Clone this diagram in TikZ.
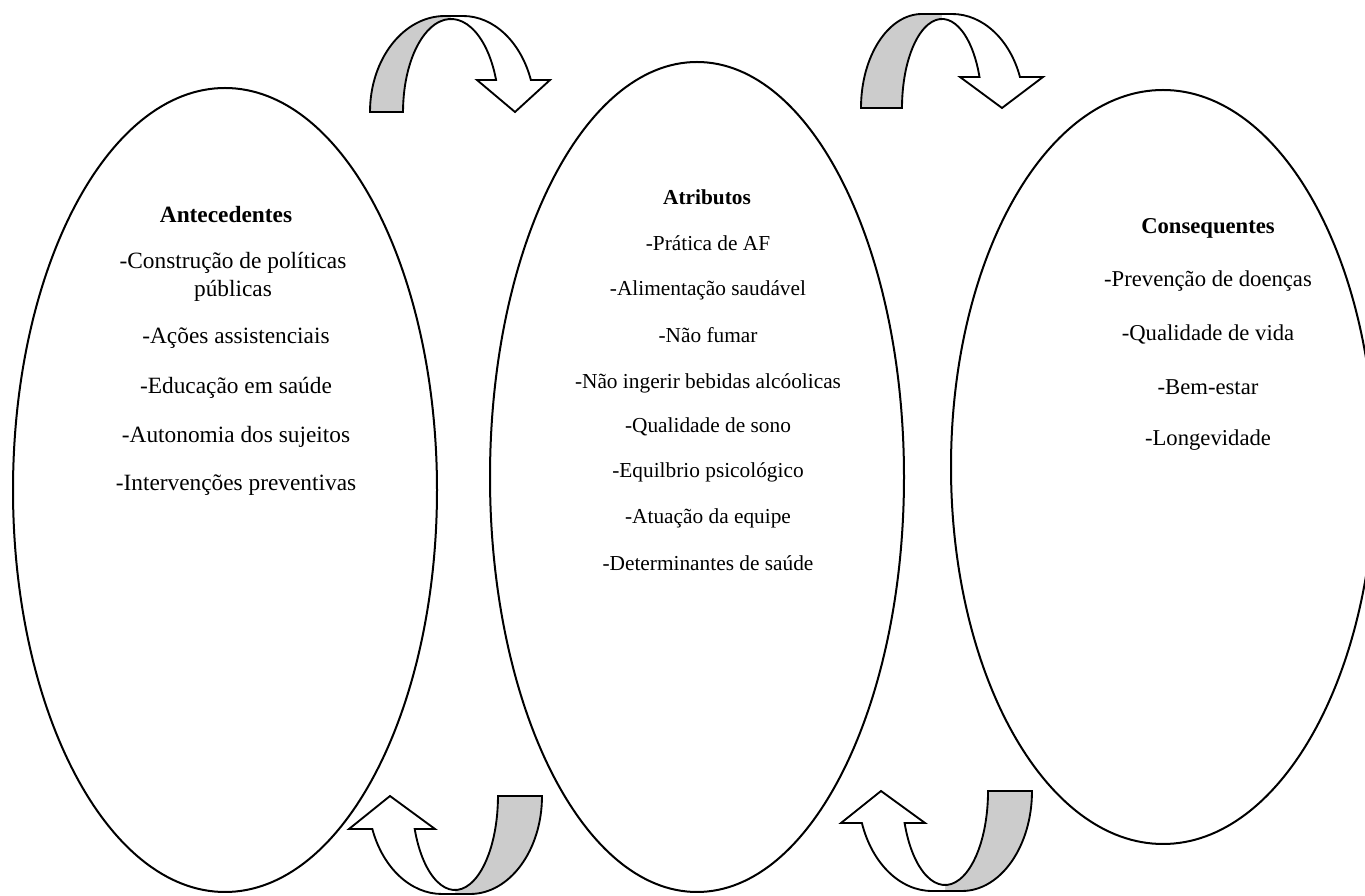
\documentclass[tikz,border=0pt]{standalone}
\usepackage{fontspec}
\setmainfont{Liberation Serif}
\usetikzlibrary{shapes.geometric}
\definecolor{band}{RGB}{204,204,204}
\begin{document}
\begin{tikzpicture}[x=0.75pt,y=0.75pt,
  oval/.style={draw=black,line width=1.5pt,ellipse,inner sep=0pt},
  bigtxt/.style={font=\fontsize{17.5}{20.5}\selectfont,align=center,inner sep=0pt},
  midtxt/.style={font=\fontsize{16}{19}\selectfont,align=center,inner sep=0pt},
  rtxt/.style={font=\fontsize{17}{20}\selectfont,align=center,inner sep=0pt},
  outline/.style={draw=black,line width=1.4pt,line join=miter}]
\useasboundingbox (0,0) rectangle (1365,896);

% ellipses
\node[oval,minimum width=424pt*0.75,minimum height=804pt*0.75] (ante) at (225,406) {};
\node[oval,minimum width=414pt*0.75,minimum height=830pt*0.75] (atri) at (697,419) {};
\node[oval,minimum width=424pt*0.75,minimum height=754pt*0.75] (cons) at (1163,429) {};

% left texts
\node[bigtxt] (a0) at (226,681) {\textbf{Antecedentes}};
\node[bigtxt] (a1) at (233,619) {-Construção de políticas\\públicas};
\node[bigtxt] (a2) at (236,558) {-Ações assistenciais};
\node[bigtxt] (a3) at (236,508) {-Educação em saúde};
\node[bigtxt] (a4) at (236,459) {-Autonomia dos sujeitos};
\node[bigtxt] (a5) at (236,411) {-Intervenções preventivas};

% middle texts
\node[midtxt] (b0) at (707,699) {\textbf{Atributos}};
\node[midtxt] (b1) at (708,653) {-Prática de AF};
\node[midtxt] (b2) at (708,606) {-Alimentação saudável};
\node[midtxt] (b3) at (708,561) {-Não fumar};
\node[midtxt] (b4) at (708,513) {-Não ingerir bebidas alcóolicas};
\node[midtxt] (b5) at (708,469) {-Qualidade de sono};
\node[midtxt] (b6) at (708,424) {-Equilbrio psicológico};
\node[midtxt] (b7) at (708,378) {-Atuação da equipe};
\node[midtxt] (b8) at (708,333) {-Determinantes de saúde};

% right texts
\node[rtxt] (c0) at (1208,668) {\textbf{Consequentes}};
\node[rtxt] (c1) at (1208,615) {-Prevenção de doenças};
\node[rtxt] (c2) at (1208,562) {-Qualidade de vida};
\node[rtxt] (c3) at (1208,509) {-Bem-estar};
\node[rtxt] (c4) at (1208,456) {-Longevidade};

% top-left curved arrow
\begin{scope}[shift={(370,784)}]
  \fill[band] (0,0) arc[start angle=180,end angle=90,x radius=75,y radius=96]
     -- (81,96) -- (81,93) arc[start angle=90,end angle=180,x radius=48,y radius=93] -- cycle;
  \fill[white] (81,93) -- (81,96) -- (93,96)
     arc[start angle=90,end angle=19.47,x radius=72,y radius=96]
     -- (180,32) -- (145,0) -- (107,32) -- (126.1,32)
     arc[start angle=20.13,end angle=90,x radius=48,y radius=93] -- cycle;
  \draw[outline] (0,0) arc[start angle=180,end angle=90,x radius=75,y radius=96]
     -- (93,96) arc[start angle=90,end angle=19.47,x radius=72,y radius=96]
     -- (180,32) -- (145,0) -- (107,32) -- (126.1,32)
     arc[start angle=20.13,end angle=180,x radius=48,y radius=93] -- cycle;
\end{scope}

% top-right curved arrow
\begin{scope}[shift={(861,788)}]
  \fill[band] (0,0) arc[start angle=180,end angle=90,x radius=61,y radius=94]
     -- (81,94) -- (81,89) arc[start angle=90,end angle=180,x radius=40,y radius=89] -- cycle;
  \fill[white] (81,89) -- (81,94) -- (91,94)
     arc[start angle=90,end angle=19.26,x radius=72,y radius=94]
     -- (182,31) -- (141,0) -- (99,31) -- (118.5,31)
     arc[start angle=20.38,end angle=90,x radius=40,y radius=89] -- cycle;
  \draw[outline] (0,0) arc[start angle=180,end angle=90,x radius=61,y radius=94]
     -- (91,94) arc[start angle=90,end angle=19.26,x radius=72,y radius=94]
     -- (182,31) -- (141,0) -- (99,31) -- (118.5,31)
     arc[start angle=20.38,end angle=180,x radius=40,y radius=89] -- cycle;
\end{scope}

% bottom-left curved arrow
\begin{scope}[shift={(542,100)},rotate=180]
  \fill[band] (0,0) arc[start angle=180,end angle=90,x radius=72,y radius=98]
     -- (87,98) -- (87,94) arc[start angle=90,end angle=180,x radius=43,y radius=94] -- cycle;
  \fill[white] (87,94) -- (87,98) -- (100,98)
     arc[start angle=90,end angle=19.68,x radius=74,y radius=98]
     -- (193,33) -- (152,0) -- (107,33) -- (127.3,33)
     arc[start angle=20.55,end angle=90,x radius=43,y radius=94] -- cycle;
  \draw[outline] (0,0) arc[start angle=180,end angle=90,x radius=72,y radius=98]
     -- (100,98) arc[start angle=90,end angle=19.68,x radius=74,y radius=98]
     -- (193,33) -- (152,0) -- (107,33) -- (127.3,33)
     arc[start angle=20.55,end angle=180,x radius=43,y radius=94] -- cycle;
\end{scope}

% bottom-right curved arrow
\begin{scope}[shift={(1032,105)},rotate=180]
  \fill[band] (0,0) arc[start angle=180,end angle=90,x radius=70,y radius=100]
     -- (87,100) -- (87,94) arc[start angle=90,end angle=180,x radius=43,y radius=94] -- cycle;
  \fill[white] (87,94) -- (87,100) -- (100,100)
     arc[start angle=90,end angle=18.66,x radius=74,y radius=100]
     -- (191,32) -- (151,0) -- (107,32) -- (127.4,32)
     arc[start angle=19.90,end angle=90,x radius=43,y radius=94] -- cycle;
  \draw[outline] (0,0) arc[start angle=180,end angle=90,x radius=70,y radius=100]
     -- (100,100) arc[start angle=90,end angle=18.66,x radius=74,y radius=100]
     -- (191,32) -- (151,0) -- (107,32) -- (127.4,32)
     arc[start angle=19.90,end angle=180,x radius=43,y radius=94] -- cycle;
\end{scope}
\end{tikzpicture}
\end{document}
